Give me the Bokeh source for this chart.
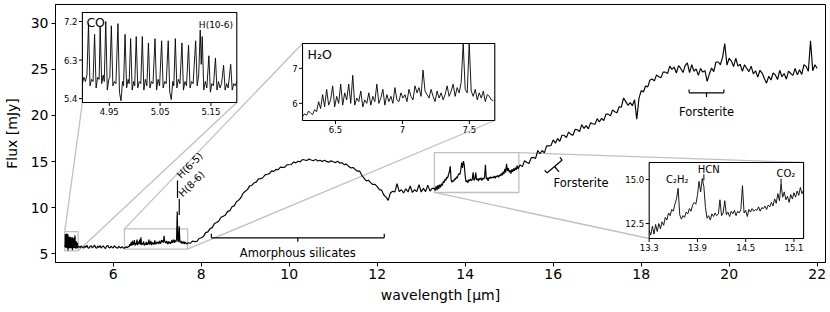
import numpy as np
from math import pi, cos, sin, radians
from bokeh.plotting import figure
from bokeh.models import Range1d, FixedTicker
from bokeh.core.properties import value
from bokeh.embed import file_html
from bokeh.resources import INLINE

FONT = "DejaVu Sans"

# ---------------- data ----------------
# CO ro-vibrational region, 4.897-5.201 um
co_wl = [4.897, 4.900, 4.903, 4.906, 4.909, 4.912, 4.915, 4.918, 4.921, 4.924,
         4.927, 4.930, 4.932, 4.935, 4.938, 4.940, 4.943, 4.946, 4.949, 4.951,
         4.954, 4.957, 4.960, 4.963, 4.967, 4.970, 4.973, 4.976, 4.978, 4.981,
         4.984, 4.987, 4.989, 4.992, 4.995, 4.998, 5.000, 5.003, 5.006, 5.009,
         5.012, 5.015, 5.018, 5.021, 5.024, 5.027, 5.030, 5.033, 5.036, 5.040,
         5.043, 5.046, 5.049, 5.053, 5.056, 5.059, 5.062, 5.066, 5.069, 5.072,
         5.075, 5.077, 5.080, 5.083, 5.086, 5.089, 5.093, 5.096, 5.099, 5.102,
         5.106, 5.109, 5.112, 5.115, 5.120, 5.123, 5.126, 5.129, 5.131, 5.133,
         5.136, 5.139, 5.142, 5.146, 5.149, 5.152, 5.155, 5.159, 5.162, 5.165,
         5.168, 5.171, 5.175, 5.178, 5.181, 5.184, 5.189, 5.192, 5.195, 5.198,
         5.201]
co_flux = [5.75, 5.90, 5.80, 5.95, 7.15, 5.70, 5.85, 5.80, 6.90, 5.65,
           5.90, 5.85, 7.10, 5.75, 5.95, 5.80, 7.20, 5.60, 5.85, 5.90,
           7.10, 5.70, 5.80, 5.75, 7.15, 5.55, 5.35, 5.80, 5.70, 6.90,
           5.65, 5.85, 5.75, 6.80, 5.60, 5.80, 5.70, 6.85, 5.65, 5.80,
           5.75, 6.85, 5.60, 5.85, 5.70, 6.70, 5.65, 5.80, 5.75, 6.80,
           5.60, 5.85, 5.70, 6.75, 5.65, 5.80, 5.75, 6.75, 5.55, 5.38,
           5.80, 5.70, 6.80, 5.65, 5.85, 5.75, 6.70, 5.60, 5.80, 5.70,
           6.65, 5.65, 5.80, 5.75, 6.75, 5.70, 5.95, 7.00, 6.20, 6.85,
           5.60, 5.80, 5.65, 6.40, 5.55, 5.75, 5.70, 6.35, 5.60, 5.80,
           5.65, 5.75, 6.18, 5.60, 5.75, 5.65, 6.20, 5.60, 5.75, 5.70,
           5.80]

# 5.225-6.225 um, step 0.025
a_start, a_step = 5.225, 0.025
a_flux = [5.78, 5.66, 5.88, 5.70, 5.62, 5.84, 5.70, 5.94, 5.66, 5.60,
          5.82, 5.86, 5.64, 5.78, 5.95, 5.66, 5.62, 5.84, 5.68, 5.90,
          5.62, 5.78, 5.86, 5.66, 5.58, 5.82, 5.92, 5.68, 5.64, 5.84,
          5.70, 5.62, 5.88, 5.74, 5.66, 5.60, 5.82, 5.70, 5.64, 5.78,
          5.64]

# H2O region 6.254-7.679 um, step 0.015
h2o_start, h2o_step = 6.254, 0.015
h2o_flux = [5.62, 5.70, 5.66, 5.78, 5.72, 5.68, 5.82, 5.76, 6.05, 5.85,
            6.25, 5.90, 6.40, 5.95, 6.10, 6.50, 5.90, 6.20, 6.00, 6.55,
            5.95, 6.30, 6.10, 6.55, 6.00, 6.80, 5.95, 6.15, 6.05, 6.35,
            5.90, 6.10, 6.00, 6.30, 5.95, 6.20, 6.05, 6.55, 6.00, 6.15,
            6.40, 5.95, 6.25, 6.05, 6.20, 6.00, 6.45, 6.10, 6.05, 6.30,
            6.15, 6.25, 6.05, 6.40, 6.20, 6.10, 6.50, 6.30, 6.45, 6.20,
            6.95, 6.35, 6.25, 6.15, 6.40, 6.20, 6.05, 6.35, 6.15, 6.30,
            6.10, 6.25, 6.50, 6.20, 6.35, 6.55, 6.20, 6.45, 6.30, 6.60,
            9.60, 6.40, 6.30, 8.00, 6.35, 6.20, 6.40, 6.10, 6.30, 6.15,
            6.35, 6.05, 6.25, 6.20, 6.10, 6.08]

# silicate region 7.70-13.25 um, step 0.05
b_start, b_step = 7.70, 0.05
b_flux = [6.20, 6.14, 6.38, 6.33, 6.35, 6.66, 6.75, 6.89, 7.30, 7.38,
          7.73, 7.84, 8.28, 8.39, 8.56, 8.96, 9.08, 9.22, 9.60, 9.68,
          10.10, 10.20, 10.65, 10.82, 11.08, 11.56, 11.78, 11.96, 12.37, 12.41,
          12.70, 12.77, 13.12, 13.15, 13.25, 13.56, 13.62, 13.69, 13.99, 13.94,
          14.15, 14.12, 14.40, 14.37, 14.40, 14.66, 14.66, 14.69, 14.96, 14.86,
          15.03, 14.97, 15.22, 15.17, 15.12, 15.28, 15.17, 15.09, 15.24, 15.06,
          15.15, 15.00, 15.15, 15.02, 14.92, 15.08, 14.98, 14.89, 15.04, 14.84,
          14.87, 14.67, 14.72, 14.49, 14.30, 14.36, 14.15, 13.96, 13.97, 13.51,
          13.20, 12.90, 12.98, 12.72, 12.52, 12.53, 12.28, 11.96, 11.90, 11.38,
          11.15, 10.80, 11.60, 11.79, 11.70, 12.60, 11.75, 11.95, 11.60, 12.05,
          11.70, 12.35, 11.65, 11.95, 11.75, 12.50, 11.70, 12.10, 11.75, 12.45,
          11.80, 12.10]

# C2H2 / HCN / CO2 region 13.30-15.22 um, step 0.02
chem_start, chem_step = 13.30, 0.02
chem_flux = [12.10, 11.85, 12.35, 11.90, 12.45, 12.05, 12.50, 12.20, 12.60, 12.40,
             12.85, 12.70, 13.10, 12.95, 13.30, 13.20, 13.60, 13.90, 14.50, 13.00,
             12.75, 12.95, 12.85, 13.15, 13.05, 13.35, 13.20, 13.55, 13.70, 13.60,
             14.10, 14.90, 14.30, 15.06, 14.60, 13.40, 12.80, 12.95, 12.70, 13.05,
             12.90, 13.10, 12.95, 13.05, 13.85, 12.95, 13.10, 13.80, 13.00, 13.15,
             12.90, 13.20, 13.05, 13.25, 12.95, 13.20, 13.10, 13.30, 14.65, 13.10,
             13.25, 12.90, 13.30, 13.15, 13.35, 13.20, 13.30, 13.25, 13.45, 13.20,
             13.40, 13.35, 13.50, 13.30, 13.55, 13.45, 13.70, 13.50, 13.90, 13.65,
             14.20, 13.80, 14.75, 14.00, 14.30, 13.85, 14.05, 13.70, 14.15, 13.90,
             14.25, 14.00, 14.35, 14.10, 14.55, 14.20, 14.40]

# crystalline region 15.25-22.00 um, step 0.05
c_start, c_step = 15.25, 0.05
c_flux = [14.65, 14.45, 15.10, 14.90, 14.80, 15.40, 15.45, 15.35, 16.20, 15.85,
          16.20, 15.95, 16.70, 16.70, 16.75, 17.35, 17.00, 17.50, 17.20, 17.85,
          17.85, 17.60, 18.20, 17.95, 17.85, 18.50, 18.45, 18.25, 19.00, 18.60,
          18.90, 18.55, 19.20, 19.10, 19.05, 19.65, 19.30, 19.70, 19.45, 20.15,
          20.15, 19.95, 20.60, 20.40, 20.30, 20.95, 20.90, 21.90, 21.50, 21.10,
          21.40, 21.05, 21.70, 19.60, 21.85, 22.70, 22.55, 23.20, 23.10, 23.85,
          23.95, 23.75, 24.40, 24.20, 24.10, 24.70, 24.70, 24.55, 25.35, 25.00,
          25.25, 24.60, 25.40, 25.10, 24.65, 25.40, 25.70, 24.65, 25.50, 24.80,
          25.05, 24.35, 25.10, 24.70, 24.85, 23.70, 24.50, 25.15, 24.75, 25.80,
          25.80, 25.50, 26.30, 27.80, 25.45, 26.20, 25.90, 25.30, 26.20, 25.35,
          25.55, 24.80, 25.50, 25.10, 24.75, 25.35, 24.50, 24.85, 24.15, 24.90,
          24.60, 24.00, 23.50, 24.25, 23.85, 24.60, 24.40, 23.90, 24.90, 24.20,
          24.55, 23.95, 24.80, 24.55, 24.35, 25.10, 24.40, 24.95, 24.45, 25.50,
          25.30, 24.80, 28.10, 24.85, 25.50, 25.10]

# axes ticks
x_ticks = [6, 8, 10, 12, 14, 16, 18, 20, 22]
y_ticks = [5, 10, 15, 20, 25, 30]

co_xlim, co_ylim = (4.897, 5.201), (5.31, 7.41)
co_xticks, co_xlabels = [4.95, 5.05, 5.15], ["4.95", "5.05", "5.15"]
co_yticks, co_ylabels = [5.4, 6.3, 7.2], ["5.4", "6.3", "7.2"]

h2o_xlim, h2o_ylim = (6.254, 7.69), (5.51, 7.71)
h2o_xticks, h2o_xlabels = [6.5, 7.0, 7.5], ["6.5", "7", "7.5"]
h2o_yticks, h2o_ylabels = [6, 7], ["6", "7"]

chem_xlim, chem_ylim = (13.30, 15.22), (11.65, 15.97)
chem_xticks, chem_xlabels = [13.3, 13.9, 14.5, 15.1], ["13.3", "13.9", "14.5", "15.1"]
chem_yticks, chem_ylabels = [12.5, 15.0], ["12.5", "15.0"]


def grid(start, step, vals):
    return [round(start + i * step, 4) for i in range(len(vals))]


a_wl = grid(a_start, a_step, a_flux)
h2o_wl = grid(h2o_start, h2o_step, h2o_flux)
b_wl = grid(b_start, b_step, b_flux)
chem_wl = grid(chem_start, chem_step, chem_flux)
c_wl = grid(c_start, c_step, c_flux)

main_wl = co_wl + a_wl + h2o_wl + b_wl + chem_wl + c_wl
main_flux = co_flux + a_flux + h2o_flux + b_flux + chem_flux + c_flux

# ---------------- layout ----------------
W, H = 830, 312
FL, FR, FT, FB = 52, 825, 4, 262  # frame edges in page pixels
XR = (4.687, 22.19)
YR = (4.06, 32.03)


def X(px):
    return XR[0] + (px - FL) * (XR[1] - XR[0]) / (FR - FL)


def Y(py):
    return YR[1] - (py - FT) * (YR[1] - YR[0]) / (FB - FT)


GRAY = "#c0c0c0"

p = figure(width=W, height=H, x_range=Range1d(*XR), y_range=Range1d(*YR),
           output_backend="svg", toolbar_location=None,
           min_border_left=FL, min_border_right=W - FR, min_border_top=FT, min_border_bottom=H - FB,
           background_fill_color="white", border_fill_color="white")
p.xgrid.visible = False
p.ygrid.visible = False
p.outline_line_color = "black"
p.outline_line_width = 1
p.xaxis.ticker = FixedTicker(ticks=x_ticks)
p.yaxis.ticker = FixedTicker(ticks=y_ticks)
for ax in (p.xaxis, p.yaxis):
    ax.major_tick_out = 4
    ax.major_tick_in = 0
    ax.minor_tick_out = 0
    ax.minor_tick_in = 0
    ax.major_tick_line_color = "black"
    ax.axis_line_color = "black"
    ax.major_label_text_font = FONT
    ax.major_label_text_font_size = "14px"
    ax.major_label_text_color = "black"
    ax.axis_label_text_font = FONT
    ax.axis_label_text_font_size = "14px"
    ax.axis_label_text_font_style = "normal"
    ax.axis_label_text_color = "black"
    ax.major_label_standoff = 3
p.xaxis.axis_label = "wavelength [μm]"
p.yaxis.axis_label = "Flux [mJy]"
p.xaxis.major_label_standoff = 2
p.xaxis.axis_label_standoff = 5
p.yaxis.axis_label_standoff = 8

insets = [
    ((79, 12, 234, 102), co_xlim, co_ylim),
    ((300, 43, 493, 120), h2o_xlim, h2o_ylim),
    ((648, 162, 803, 238), chem_xlim, chem_ylim),
]

# zoom boxes on the main axes
p.quad(left=[i[1][0] for i in insets], right=[i[1][1] for i in insets],
       bottom=[i[2][0] for i in insets], top=[i[2][1] for i in insets],
       fill_color=None, line_color=GRAY, line_width=1.3)

# connector lines (box corner -> inset corner)
cx0 = [co_xlim[0], co_xlim[1], h2o_xlim[0], h2o_xlim[1], chem_xlim[1], chem_xlim[0]]
cy0 = [co_ylim[1], co_ylim[0], h2o_ylim[1], h2o_ylim[0], chem_ylim[1], chem_ylim[0]]
cx1 = [X(79), X(234), X(300), X(493), X(803), X(648)]
cy1 = [Y(102), Y(102), Y(43), Y(120), Y(162), Y(238)]
p.segment(x0=cx0, y0=cy0, x1=cx1, y1=cy1, line_color=GRAY, line_width=1.3)

# main spectrum
p.line(main_wl, main_flux, line_color="black", line_width=1.15)

# --- annotations on main axes ---
ann = dict(line_color="black", line_width=1.2)
p.segment(x0=[7.46, 7.50], y0=[11.05, 9.2], x1=[7.46, 7.50], y1=[12.95, 10.95], **ann)
p.text(x=[7.46, 7.50], y=[12.95, 10.95], text=["H(6-5)", "H(8-6)"], angle=pi / 4,
       x_offset=5, y_offset=0, text_align="left", text_baseline="bottom",
       text_font=value(FONT), text_font_size="10px", text_color="black")

# amorphous silicates bracket
am_l, am_r, am_y = 8.23, 12.16, 6.74
am_c = (am_l + am_r) / 2
p.segment(x0=[am_l, am_l, am_r, am_c], y0=[am_y, am_y, am_y, am_y],
          x1=[am_r, am_l, am_r, am_c], y1=[am_y, am_y + 0.43, am_y + 0.43, am_y - 0.43], **ann)
p.text(x=[am_c], y=[5.11], text=["Amorphous silicates"], text_align="center",
       text_baseline="middle", text_font=value(FONT), text_font_size="11.5px", text_color="black")

# forsterite bracket (upper)
fo_l, fo_r, fo_y = 19.09, 19.88, 22.46
fo_c = (fo_l + fo_r) / 2
p.segment(x0=[fo_l, fo_l, fo_r, fo_c], y0=[fo_y, fo_y, fo_y, fo_y],
          x1=[fo_r, fo_l, fo_r, fo_c], y1=[fo_y, fo_y + 0.35, fo_y + 0.35, fo_y - 0.45], **ann)
p.text(x=[fo_c], y=[20.4], text=["Forsterite"], text_align="center", text_baseline="middle",
       text_font=value(FONT), text_font_size="11.5px", text_color="black")

# forsterite bracket (rotated, ~16 um)
bx, by, ba = 553.0, 166.0, radians(40)
dxu, dyu = cos(ba), -sin(ba)          # along the bar (screen px)
pxu, pyu = -sin(ba), -cos(ba)         # perpendicular, towards upper-left
e1 = (bx - 10 * dxu, by - 10 * dyu)
e2 = (bx + 10 * dxu, by + 10 * dyu)
segs = [(e1, e2),
        (e1, (e1[0] + 3.5 * pxu, e1[1] + 3.5 * pyu)),
        (e2, (e2[0] + 3.5 * pxu, e2[1] + 3.5 * pyu)),
        ((bx, by), (bx - 7 * pxu, by - 7 * pyu))]
p.segment(x0=[X(s[0][0]) for s in segs], y0=[Y(s[0][1]) for s in segs],
          x1=[X(s[1][0]) for s in segs], y1=[Y(s[1][1]) for s in segs], **ann)
p.text(x=[X(552)], y=[Y(182.5)], text=["Forsterite"], text_align="left", text_baseline="middle",
       text_font=value(FONT), text_font_size="11.5px", text_color="black")


# ---------------- insets ----------------
def make_inset(box_px, xlim, ylim, wl, fl, xt, xtl, yt, ytl):
    l, t, r, b = box_px
    sub = p.subplot(x_source=Range1d(*xlim), y_source=Range1d(*ylim),
                    x_target=Range1d(X(l), X(r)), y_target=Range1d(Y(b), Y(t)))
    sub.quad(left=[xlim[0]], right=[xlim[1]], bottom=[ylim[0]], top=[ylim[1]],
             fill_color="white", line_color=None)
    sub.line(wl, list(np.clip(fl, ylim[0], ylim[1])), line_color="black", line_width=0.9)
    sub.quad(left=[xlim[0]], right=[xlim[1]], bottom=[ylim[0]], top=[ylim[1]],
             fill_color=None, line_color="black", line_width=1.1)
    dy = (ylim[1] - ylim[0]) / (b - t) * 3.5
    dx = (xlim[1] - xlim[0]) / (r - l) * 3.5
    n, m = len(xt), len(yt)
    sub.segment(x0=xt, y0=[ylim[0]] * n, x1=xt, y1=[ylim[0] - dy] * n, line_color="black", line_width=1)
    sub.segment(x0=[xlim[0]] * m, y0=yt, x1=[xlim[0] - dx] * m, y1=yt, line_color="black", line_width=1)
    sub.text(x=xt, y=[ylim[0]] * n, text=xtl, y_offset=5, text_align="center", text_baseline="top",
             text_font=value(FONT), text_font_size="8.5px", text_color="black")
    sub.text(x=[xlim[0]] * m, y=yt, text=ytl, x_offset=-5, text_align="right", text_baseline="middle",
             text_font=value(FONT), text_font_size="8.5px", text_color="black")
    return sub


co = make_inset(insets[0][0], co_xlim, co_ylim, co_wl, co_flux,
                co_xticks, co_xlabels, co_yticks, co_ylabels)
co.text(x=[co_xlim[0]], y=[co_ylim[1]], text=["CO"], x_offset=4, y_offset=2,
        text_align="left", text_baseline="top", text_font=value(FONT), text_font_size="12.5px",
        text_color="black")
co.text(x=[5.16], y=[co_ylim[1]], text=["H(10-6)"], y_offset=7, text_align="center",
        text_baseline="top", text_font=value(FONT), text_font_size="9px", text_color="black")

h2o = make_inset(insets[1][0], h2o_xlim, h2o_ylim, h2o_wl, h2o_flux,
                 h2o_xticks, h2o_xlabels, h2o_yticks, h2o_ylabels)
h2o.text(x=[h2o_xlim[0]], y=[h2o_ylim[1]], text=["H₂O"], x_offset=5, y_offset=3,
         text_align="left", text_baseline="top", text_font=value(FONT), text_font_size="12.5px",
         text_color="black")

chem = make_inset(insets[2][0], chem_xlim, chem_ylim, chem_wl, chem_flux,
                  chem_xticks, chem_xlabels, chem_yticks, chem_ylabels)
chem.text(x=[13.65, 14.04, 15.0], y=[15.0, 15.6, 15.34], text=["C₂H₂", "HCN", "CO₂"],
          text_align="center", text_baseline="middle", text_font=value(FONT),
          text_font_size="10px", text_color="black")
chem.segment(x0=[13.98, 14.94], y0=[14.94, 14.75], x1=[13.98, 14.94], y1=[15.3, 15.05],
             line_color="black", line_width=1)

open("out.html", "w").write(file_html(p, INLINE))
